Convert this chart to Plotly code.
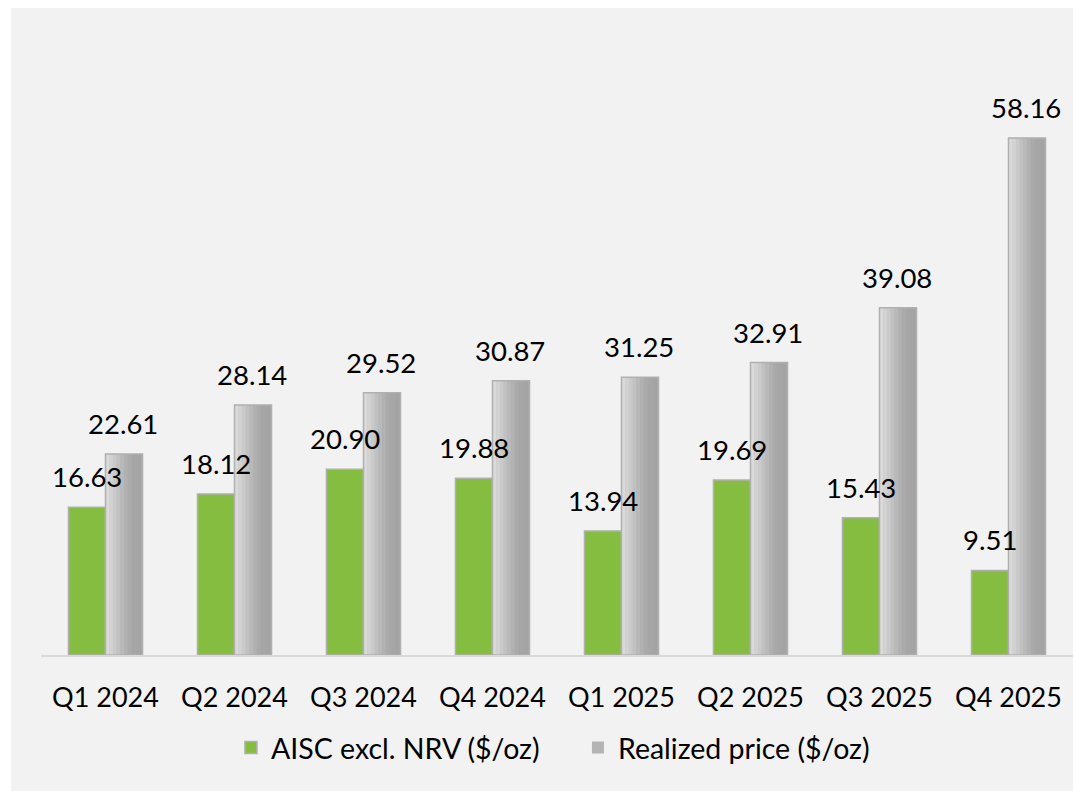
import plotly.graph_objects as go

quarters = ["Q1 2024", "Q2 2024", "Q3 2024", "Q4 2024", "Q1 2025", "Q2 2025", "Q3 2025", "Q4 2025"]
aisc = [16.63, 18.12, 20.90, 19.88, 13.94, 19.69, 15.43, 9.51]
realized = [22.61, 28.14, 29.52, 30.87, 31.25, 32.91, 39.08, 58.16]
labels_aisc = [f"{v:.2f}" for v in aisc]
labels_real = [f"{v:.2f}" for v in realized]

FONT = "Lato, 'Open Sans', sans-serif"
BW = 0.287
GREEN = "#84bd3f"
EDGE = "#b0b0b0"
LABEL_SIZE = 27.5

fig = go.Figure()

fig.add_trace(go.Bar(
    x=quarters, y=aisc, name="AISC excl. NRV ($/oz)",
    width=BW, offset=-BW,
    marker=dict(color=GREEN, line=dict(color=EDGE, width=1.5)),
    hoverinfo="skip",
))

fig.add_trace(go.Bar(
    x=quarters, y=realized, name="Realized price ($/oz)",
    width=BW, offset=0,
    marker=dict(color="#b4b4b4", line=dict(width=0)),
    hoverinfo="skip",
))

# horizontal gradient slices for the grey bars
slice_colors = ["#dadada", "#d2d2d2", "#cacaca", "#c1c1c1", "#b9b9b9", "#b1b1b1", "#aaaaaa", "#a6a6a6", "#a5a5a5", "#a4a4a4"]
n = len(slice_colors)
sw = BW / n
for i, c in enumerate(slice_colors):
    fig.add_trace(go.Bar(
        x=quarters, y=realized, showlegend=False,
        width=sw * 1.08 if i < n - 1 else sw, offset=i * sw,
        marker=dict(color=c, line=dict(width=0)),
        hoverinfo="skip",
    ))

# outline for grey bars
fig.add_trace(go.Bar(
    x=quarters, y=realized, showlegend=False,
    width=BW, offset=0,
    marker=dict(color="rgba(0,0,0,0)", line=dict(color=EDGE, width=1.5)),
    hoverinfo="skip",
))

annotations = []
for q, v, t in zip(quarters, aisc, labels_aisc):
    annotations.append(dict(x=q, y=v, text=t, showarrow=False, xanchor="center", yanchor="bottom",
                            xshift=-19, yshift=12, font=dict(size=LABEL_SIZE, family=FONT, color="#000000")))
for q, v, t in zip(quarters, realized, labels_real):
    annotations.append(dict(x=q, y=v, text=t, showarrow=False, xanchor="center", yanchor="bottom",
                            xshift=17, yshift=12, font=dict(size=LABEL_SIZE, family=FONT, color="#000000")))

fig.update_layout(
    width=1073, height=791,
    barmode="overlay",
    paper_bgcolor="#f2f2f2",
    plot_bgcolor="#f2f2f2",
    margin=dict(l=41, r=0, t=40, b=136),
    font=dict(family=FONT, color="#000000"),
    showlegend=True,
    annotations=annotations,
    legend=dict(
        orientation="h", x=0.5203, xanchor="center", y=-0.151, yanchor="middle",
        font=dict(size=28.5, family=FONT, color="#000000"),
        bgcolor="rgba(0,0,0,0)", traceorder="normal",
        itemwidth=30, entrywidth=302, entrywidthmode="pixels",
    ),
    xaxis=dict(
        type="category", showgrid=False, zeroline=False,
        showline=True, linecolor="#d9d9d9", linewidth=2,
        ticks="", tickfont=dict(size=27, family=FONT, color="#000000"),
        ticklabelstandoff=18,
    ),
    yaxis=dict(range=[0, 69.2], visible=False, showgrid=False, zeroline=False),
    shapes=[
        dict(type="rect", xref="paper", yref="paper", x0=-41/1032, x1=-30/1032, y0=-136/615, y1=(615+40)/615,
             fillcolor="#ffffff", line=dict(width=0), layer="below"),
        dict(type="rect", xref="paper", yref="paper", x0=-41/1032, x1=1.0, y0=(615+32)/615, y1=(615+40)/615,
             fillcolor="#ffffff", line=dict(width=0), layer="below"),
    ],
)

fig.write_html(
    "out.html",
    config={"displayModeBar": False},
    post_script="document.body.style.margin='0';document.body.style.overflow='hidden';",
)
